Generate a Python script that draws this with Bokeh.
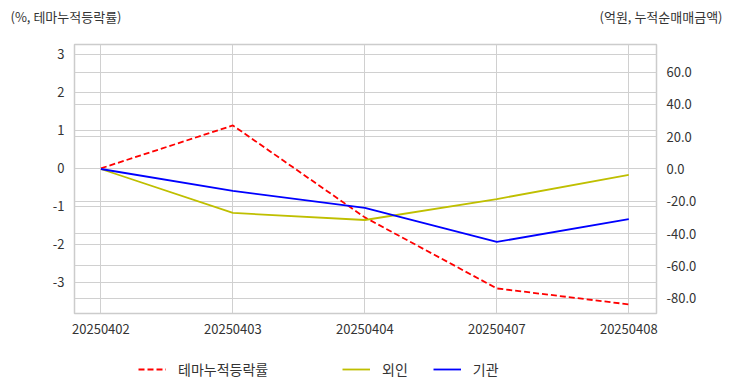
from bokeh.plotting import figure
from bokeh.layouts import column
from bokeh.models import (Range1d, LinearAxis, FixedTicker, Grid, Label, Legend,
                          LegendItem, PrintfTickFormatter)
from bokeh.embed import file_html
from bokeh.resources import INLINE

# ---- data ----
dates = ["20250402", "20250403", "20250404", "20250407", "20250408"]
theme_pct = [0.0, 1.13, -1.29, -3.16, -3.58]          # 테마누적등락률 (%)
foreign_amt = [0.0, -27.2, -31.6, -18.6, -3.7]        # 외인 (억원)
inst_amt = [0.0, -13.6, -24.1, -45.2, -31.0]          # 기관 (억원)
left_ticks = [-3, -2, -1, 0, 1, 2, 3]
right_ticks = [-80, -60, -40, -20, 0, 20, 40, 60]
left_title = "(%, 테마누적등락률)"
right_title = "(억원, 누적순매매금액)"
series_names = ["테마누적등락률", "외인", "기관"]
series_colors = ["#ff0000", "#bfbf00", "#0000ff"]

FONT = "Noto Sans CJK KR"
GRID = "#d0d0d0"
TXT = "#333333"
W = 728

xs = list(range(len(dates)))


def blank(height):
    f = figure(width=W, height=height, output_backend="svg", toolbar_location=None,
               x_range=Range1d(0, W), y_range=Range1d(0, height),
               x_axis_location=None, y_axis_location=None,
               min_border=0, min_border_left=0, min_border_right=0,
               min_border_top=0, min_border_bottom=0, frame_align=False)
    f.outline_line_color = None
    f.xgrid.visible = False
    f.ygrid.visible = False
    f.background_fill_color = "white"
    f.border_fill_color = "white"
    return f


# ---- header ----
head = blank(30)
head.add_layout(Label(x=10, y=14, text=left_title, text_font=FONT, text_font_size="13px",
                      text_color=TXT, text_baseline="middle", text_align="left"))
head.add_layout(Label(x=722, y=14, text=right_title, text_font=FONT, text_font_size="13px",
                      text_color=TXT, text_baseline="middle", text_align="right"))

# ---- main chart ----
p = figure(width=W, height=310, output_backend="svg", toolbar_location=None,
           x_range=Range1d(-0.2, 4.21), y_range=Range1d(-3.82, 3.26),
           min_border_left=74, min_border_right=72, min_border_top=14,
           min_border_bottom=27, frame_align=False)
p.extra_y_ranges = {"right": Range1d(-89.5, 77.1)}
p.background_fill_color = "white"
p.border_fill_color = "white"
p.outline_line_color = "#cccccc"
p.outline_line_width = 1.5

p.xaxis.ticker = FixedTicker(ticks=xs)
p.xaxis.major_label_overrides = {i: d for i, d in enumerate(dates)}
p.yaxis.ticker = FixedTicker(ticks=left_ticks)
p.yaxis.formatter = PrintfTickFormatter(format="%d")
ra = LinearAxis(y_range_name="right", ticker=FixedTicker(ticks=right_ticks),
                formatter=PrintfTickFormatter(format="%.1f"))
p.add_layout(ra, "right")
for ax in [p.xaxis[0], p.yaxis[0], ra]:
    ax.axis_line_color = None
    ax.major_tick_line_color = None
    ax.minor_tick_line_color = None
    ax.major_label_text_font = FONT
    ax.major_label_text_font_size = "13px"
    ax.major_label_text_color = TXT
    ax.major_label_standoff = 4

p.xgrid.grid_line_color = GRID
p.ygrid.grid_line_color = GRID
p.add_layout(Grid(dimension=1, ticker=ra.ticker, y_range_name="right", grid_line_color=GRID))

p.line(xs, theme_pct, line_color=series_colors[0], line_width=1.8, line_dash="6 3")
p.line(xs, foreign_amt, line_color=series_colors[1], line_width=1.8, y_range_name="right")
p.line(xs, inst_amt, line_color=series_colors[2], line_width=1.8, y_range_name="right")

# ---- legend footer (hidden copies of the series give the legend keys) ----
foot = blank(48)
k1 = foot.line(xs, theme_pct, line_color=series_colors[0], line_width=1.8,
               line_dash="6 3", visible=False)
k2 = foot.line(xs, foreign_amt, line_color=series_colors[1], line_width=1.8, visible=False)
k3 = foot.line(xs, inst_amt, line_color=series_colors[2], line_width=1.8, visible=False)


def mk_legend(items, loc, spacing):
    return Legend(items=items, location=loc, orientation="horizontal",
                  glyph_width=28, label_standoff=12, spacing=spacing, padding=0, margin=0,
                  border_line_color=None, background_fill_alpha=0,
                  inactive_fill_alpha=0,
                  label_text_font=FONT, label_text_font_size="14px", label_text_color=TXT)


foot.add_layout(mk_legend([LegendItem(label=series_names[0], renderers=[k1])], (138, 9), 0))
foot.add_layout(mk_legend([LegendItem(label=series_names[1], renderers=[k2]),
                           LegendItem(label=series_names[2], renderers=[k3])], (342, 9), 25))

layout = column(head, p, foot, spacing=0)
open("out.html", "w").write(file_html(layout, INLINE))
